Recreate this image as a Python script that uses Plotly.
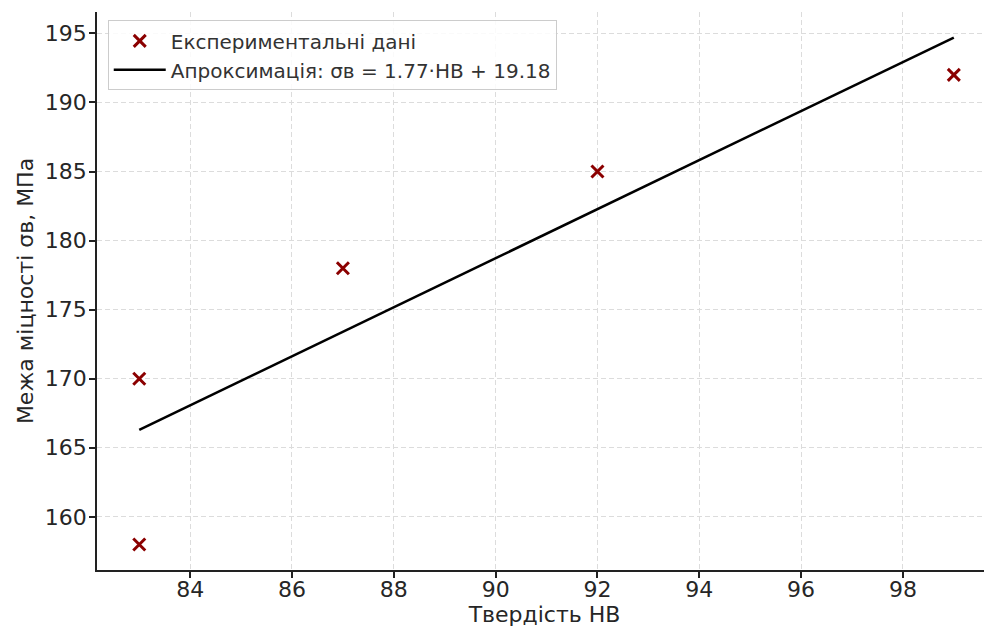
import plotly.graph_objects as go

hardness = [83, 83, 87, 92, 99]
strength = [158, 170, 178, 185, 192]
fit_x = [83, 99]
fit_y = [166.3, 194.7]
x_ticks = [84, 86, 88, 90, 92, 94, 96, 98]
y_ticks = [160, 165, 170, 175, 180, 185, 190, 195]

fig = go.Figure()
fig.add_trace(go.Scatter(
    x=hardness, y=strength, mode="markers", name="Експериментальні дані",
    marker=dict(symbol="x-thin", size=12, color="#8b0000",
                line=dict(width=3, color="#8b0000")),
))
fig.add_trace(go.Scatter(
    x=fit_x, y=fit_y, mode="lines",
    name="Апроксимація: σв = 1.77·HB + 19.18",
    line=dict(color="black", width=2.5),
))

axis_common = dict(
    showgrid=True, gridcolor="#dcdcdc", griddash="5px,3px", gridwidth=1,
    showline=True, linecolor="#222", linewidth=1.5,
    ticks="outside", ticklen=6, tickwidth=1.5, tickcolor="#222",
    zeroline=False, tickfont=dict(size=22, color="#262626"),
    mirror=False, automargin=False,
)

fig.update_layout(
    width=984, height=620,
    margin=dict(l=89, r=0, t=4, b=58),
    plot_bgcolor="white", paper_bgcolor="white",
    font=dict(family="DejaVu Sans", color="#262626"),
    xaxis=dict(range=[82.17, 99.75], tickvals=x_ticks, ticklabelstandoff=-7,
               title=dict(text="Твердість НВ", font=dict(size=22), standoff=5),
               **axis_common),
    yaxis=dict(range=[156.15, 196.55], tickvals=y_ticks, ticklabelstandoff=-2,
               title=dict(text="Межа міцності σв, МПа", font=dict(size=22), standoff=5),
               **axis_common),
    legend=dict(x=0.012, y=0.985, xanchor="left", yanchor="top",
                bgcolor="rgba(255,255,255,0.85)", bordercolor="#cccccc",
                borderwidth=1, font=dict(size=20, color="#333"),
                itemwidth=52),
    showlegend=True,
)

fig.write_html("out.html")
